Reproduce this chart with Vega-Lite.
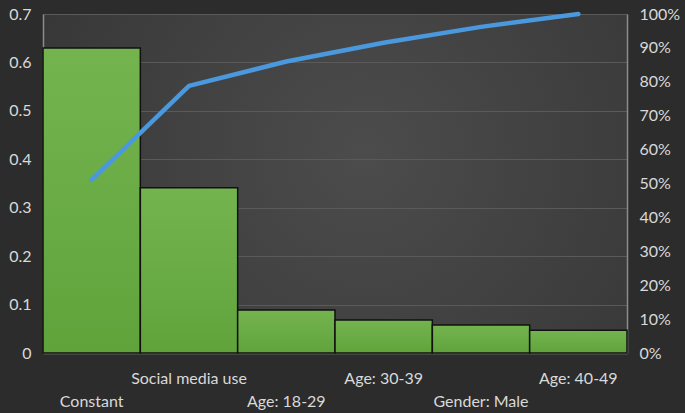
{
  "$schema": "https://vega.github.io/schema/vega-lite/v6.json",
  "width": 584,
  "height": 339,
  "autosize": {"type": "none"},
  "padding": {"left": 43, "top": 14, "right": 58, "bottom": 60},
  "background": "#2c2c2c",
  "config": {
    "view": {
      "stroke": null,
      "fill": {"gradient": "radial", "x1": 0.55, "y1": 0.45, "x2": 0.55, "y2": 0.45, "r1": 0, "r2": 0.8,
        "stops": [{"offset": 0, "color": "#4c4c4c"}, {"offset": 1, "color": "#313131"}]}
    },
    "axis": {
      "labelFont": "Lato",
      "labelFontSize": 16,
      "labelColor": "#d9d9d9",
      "domainColor": "#8c8c8c",
      "domainWidth": 1.5,
      "ticks": false,
      "gridColor": "#5a5a5a",
      "gridWidth": 1,
      "title": null
    }
  },
  "data": {
    "values": [
      {"term": "Constant", "coef": 0.63, "cum": 0.511},
      {"term": "Social media use", "coef": 0.341, "cum": 0.788},
      {"term": "Age: 18-29", "coef": 0.089, "cum": 0.860},
      {"term": "Age: 30-39", "coef": 0.068, "cum": 0.915},
      {"term": "Gender: Male", "coef": 0.058, "cum": 0.962},
      {"term": "Age: 40-49", "coef": 0.047, "cum": 1.0}
    ]
  },
  "encoding": {
    "x": {
      "field": "term",
      "type": "nominal",
      "sort": null,
      "scale": {"paddingInner": 0, "paddingOuter": 0},
      "axis": {
        "labelAngle": 0,
        "labelPadding": 17,
        "labelLineHeight": 23,
        "labelExpr": "indexof(['Social media use','Age: 30-39','Age: 40-49'], datum.value) >= 0 ? [datum.value] : ['', datum.value]"
      }
    }
  },
  "layer": [
    {
      "mark": {
        "type": "bar",
        "stroke": "#111111",
        "strokeWidth": 1.5,
        "color": {"gradient": "linear", "x1": 0, "y1": 0, "x2": 0, "y2": 1,
          "stops": [{"offset": 0, "color": "#74b44f"}, {"offset": 1, "color": "#60a33b"}]}
      },
      "encoding": {
        "y": {
          "field": "coef",
          "type": "quantitative",
          "scale": {"domain": [0, 0.7], "nice": false},
          "axis": {"values": [0, 0.1, 0.2, 0.3, 0.4, 0.5, 0.6, 0.7], "grid": true, "labelPadding": 12, "format": ".1~f"}
        }
      }
    },
    {
      "mark": {"type": "line", "color": "#4a98de", "strokeWidth": 4.5, "strokeCap": "round", "strokeJoin": "round"},
      "encoding": {
        "y": {
          "field": "cum",
          "type": "quantitative",
          "scale": {"domain": [0, 1], "nice": false},
          "axis": {"orient": "right", "format": ".0%", "values": [0, 0.1, 0.2, 0.3, 0.4, 0.5, 0.6, 0.7, 0.8, 0.9, 1], "grid": false, "labelPadding": 12}
        }
      }
    }
  ],
  "resolve": {"scale": {"y": "independent"}}
}
